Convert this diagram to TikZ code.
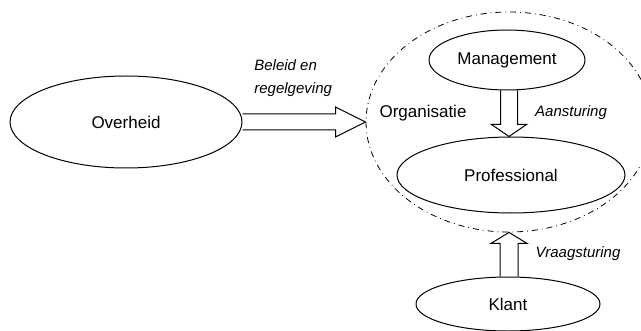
\documentclass[tikz,border=0pt]{standalone}
\usepackage{fontspec}
\setmainfont{Liberation Sans}
\usetikzlibrary{shapes.geometric,positioning,calc}
\tikzset{
  party/.style = {draw, ellipse, inner sep=0pt, line width=0.5pt, font=\fontsize{8.5}{10}\selectfont},
  flowlabel/.style = {font=\fontsize{7.5}{11.5}\selectfont\itshape, align=left, inner sep=0pt},
  blockarrow/.style = {draw, line width=0.5pt, line join=miter},
}

\begin{document}
\begin{tikzpicture}[x=0.5pt, y=-0.5pt]
 \useasboundingbox (0,0) rectangle (641,331);

 % organisation boundary
 \node[draw, ellipse, dash dot, line width=0.4pt, minimum width=143pt, minimum height=110pt] (org) at (509,122) {};
 \node[font=\fontsize{8.5}{10}\selectfont, inner sep=0pt] (orglabel) at (423,113) {Organisatie};

 % parties
 \node[party, minimum width=116pt, minimum height=46pt] (ov) at (126,122) {Overheid};
 \node[party, minimum width=78pt, minimum height=30pt] (mg) at (507,60) {Management};
 \node[party, minimum width=114pt, minimum height=38pt] (pr) at (511,175) {Professional};
 \node[party, minimum width=92pt, minimum height=27pt] (kl) at (508,304) {Klant};

 % block arrows
 \draw[blockarrow] ($(ov.east)+(0,-8)$) -- ($(org.west)+(-30,-8)$) -- ($(org.west)+(-30,-15)$)
   -- (org.west) -- ($(org.west)+(-30,15)$) -- ($(org.west)+(-30,8)$) -- ($(ov.east)+(0,8)$);
 \draw[blockarrow] ($(mg.south -| org.center)+(-8.5,0)$) -- ($(pr.north -| org.center)+(-8.5,-12)$)
   -- ($(pr.north -| org.center)+(-17.5,-12)$) -- (pr.north -| org.center)
   -- ($(pr.north -| org.center)+(17.5,-12)$) -- ($(pr.north -| org.center)+(8.5,-12)$)
   -- ($(mg.south -| org.center)+(8.5,0)$);
 \draw[blockarrow] ($(kl.north -| org.center)+(-9,0)$) -- ($(org.south)+(-9,11)$)
   -- ($(org.south)+(-18,11)$) -- (org.south) -- ($(org.south)+(18,11)$)
   -- ($(org.south)+(9,11)$) -- ($(kl.north -| org.center)+(9,0)$);

 % arrow labels
 \node[flowlabel, anchor=west] (beleid) at (254,78) {Beleid en\\regelgeving};
 \node[flowlabel] (aansturing) at (571,113) {Aansturing};
 \node[flowlabel] (vraag) at (578,254) {Vraagsturing};

\end{tikzpicture}
\end{document}
